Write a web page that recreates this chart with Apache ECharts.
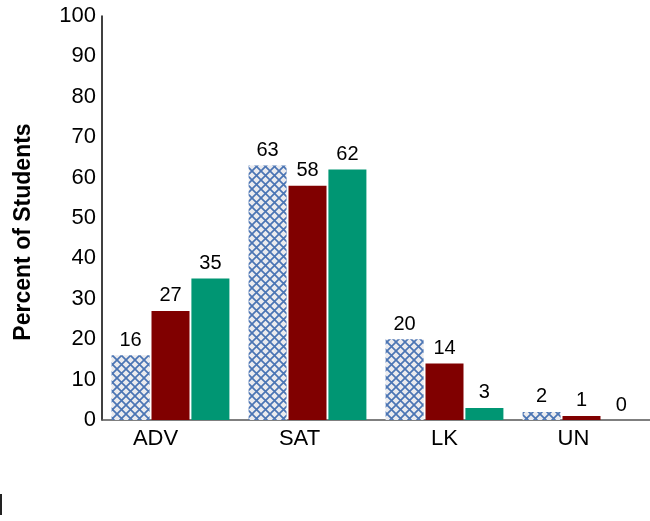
<!DOCTYPE html>
<html><head><meta charset="utf-8">
<script src="https://cdn.jsdelivr.net/npm/echarts@6/dist/echarts.min.js"></script>
<style>html,body{margin:0;padding:0;background:#fff}#c{width:650px;height:521px}</style>
</head><body><div id="c"></div>
<script>
var categories = ['ADV', 'SAT', 'LK', 'UN'];
var seriesA = [16, 63, 20, 2];
var seriesB = [27, 58, 14, 1];
var seriesC = [35, 62, 3, 0];
var yTicks = [0, 10, 20, 30, 40, 50, 60, 70, 80, 90, 100];

function makePattern() {
  var n = 9;
  var c = document.createElement('canvas');
  c.width = n; c.height = n;
  var g = c.getContext('2d');
  g.fillStyle = '#ebebee';
  g.fillRect(0, 0, n, n);
  g.strokeStyle = '#4b75b4';
  g.lineWidth = 1.7;
  g.beginPath();
  g.moveTo(-1, -1); g.lineTo(n + 1, n + 1);
  g.moveTo(n + 1, -1); g.lineTo(-1, n + 1);
  g.stroke();
  return c;
}
var pat = { image: makePattern(), repeat: 'repeat' };

var FONT = 'Liberation Sans, Arial, sans-serif';
var labelOffsets = { ADV: 30, SAT: 16, LK: 0, UN: 16 };

var chart = echarts.init(document.getElementById('c'), null, { renderer: 'canvas' });
var lbl = { show: true, position: 'top', distance: 5, color: '#000', fontSize: 20, fontFamily: FONT };
chart.setOption({
  animation: false,
  grid: { left: 102, right: 0, top: 16, bottom: 101, containLabel: false, outerBoundsMode: 'none' },
  xAxis: {
    type: 'category', data: categories,
    axisLine: { lineStyle: { color: '#555', width: 1.5 } },
    axisTick: { show: false },
    axisLabel: {
      interval: 0, hideOverlap: false,
      margin: 8, color: '#000', fontSize: 22, fontFamily: FONT,
      formatter: function (v) { return '{' + v + '|' + v + '}'; },
      rich: {
        ADV: { fontSize: 22, fontFamily: FONT, color: '#000', padding: [0, labelOffsets.ADV, 0, 0] },
        SAT: { fontSize: 22, fontFamily: FONT, color: '#000', padding: [0, labelOffsets.SAT, 0, 0] },
        LK: { fontSize: 22, fontFamily: FONT, color: '#000', padding: [0, labelOffsets.LK, 0, 0] },
        UN: { fontSize: 22, fontFamily: FONT, color: '#000', padding: [0, labelOffsets.UN, 0, 0] }
      }
    }
  },
  yAxis: {
    type: 'value', min: 0, max: 100, interval: 10,
    name: 'Percent of Students', nameLocation: 'middle', nameGap: 67,
    nameTextStyle: { fontSize: 23, fontWeight: 'bold', color: '#000', fontFamily: FONT, padding: [0, 28, 0, 0] },
    axisLine: { show: true, lineStyle: { color: '#000', width: 1.5 } },
    axisTick: { show: false },
    splitLine: { show: false },
    axisLabel: { margin: 6, color: '#000', fontSize: 22, fontFamily: FONT,
      formatter: function (v) { return yTicks.indexOf(v) >= 0 ? String(v) : ''; } }
  },
  series: [
    { type: 'bar', data: seriesA, itemStyle: { color: pat }, label: lbl, barGap: '5%', barCategoryGap: '14%' },
    { type: 'bar', data: seriesB, itemStyle: { color: '#800000' }, label: lbl },
    { type: 'bar', data: seriesC, itemStyle: { color: '#009673' }, label: lbl }
  ],
  graphic: [
    { type: 'rect', left: 0, top: 494, shape: { width: 2, height: 21 }, style: { fill: '#222' } }
  ]
});
</script>
</body></html>
